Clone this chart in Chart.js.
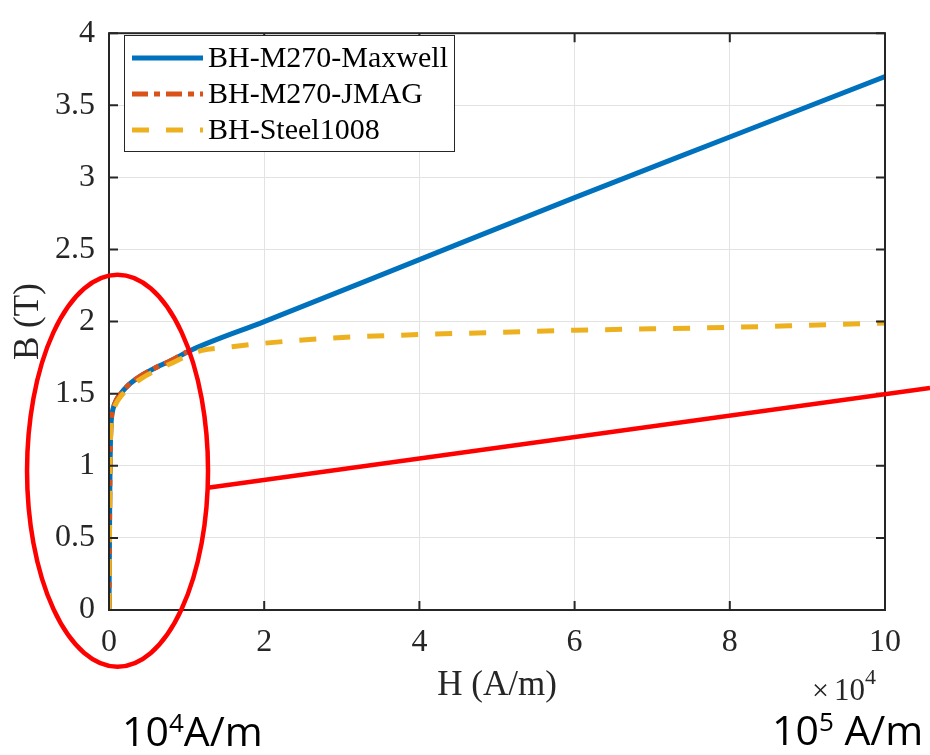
<!DOCTYPE html>
<html>
<head>
<meta charset="utf-8">
<script src="https://cdn.jsdelivr.net/npm/chart.js@4.4.0/dist/chart.umd.min.js"></script>
<style>
    html, body { margin: 0; padding: 0; background: #fff; }
    #bh { display: block; }
</style>
</head>
<body>
<canvas id="bh" width="930" height="755"></canvas>
<script>
// H in units of 1e4 A/m, B in T
const maxwellH = [0, 0.005, 0.01, 0.015, 0.02, 0.03, 0.05, 0.09, 0.15, 0.25, 0.4, 0.6, 0.8, 1.05, 2, 4, 6, 8, 10];
const maxwellB = [0, 0.4, 0.8, 1.05, 1.2, 1.32, 1.39, 1.45, 1.5, 1.56, 1.62, 1.68, 1.73, 1.8, 2.0, 2.43, 2.86, 3.28, 3.7];

const jmagH = [0, 0.005, 0.01, 0.015, 0.02, 0.03, 0.05, 0.09, 0.15, 0.25, 0.4, 0.6, 0.8, 1.0];
const jmagB = [0, 0.4, 0.8, 1.05, 1.2, 1.32, 1.39, 1.45, 1.5, 1.56, 1.62, 1.68, 1.73, 1.79];

const steelH = [0, 0.005, 0.01, 0.015, 0.02, 0.03, 0.05, 0.09, 0.15, 0.25, 0.4, 0.6, 0.8, 1.0, 1.2, 1.5, 2, 3, 4, 5, 6, 7, 8, 9, 10];
const steelB = [0, 0.4, 0.8, 1.05, 1.2, 1.3, 1.37, 1.43, 1.48, 1.54, 1.6, 1.66, 1.71, 1.76, 1.8, 1.82, 1.85, 1.89, 1.91, 1.925, 1.94, 1.95, 1.96, 1.975, 1.99];

const seriesLabels = ['BH-M270-Maxwell', 'BH-M270-JMAG', 'BH-Steel1008'];
const xTickStep = 2;
const yTickStep = 0.5;

const SERIF = '"Liberation Serif", "Times New Roman", serif';
const SANS = '"Open Sans", "Noto Sans", sans-serif';
const AXIS_COLOR = '#262626';
const GRID_COLOR = '#e3e3e3';

const toPoints = (xs, ys) => xs.map((x, i) => ({ x: x, y: ys[i] }));

// box round the axes with inward ticks on all four sides
const axesBox = {
    id: 'axesBox',
    afterDatasetsDraw(chart) {
        const { ctx, chartArea: a, scales: { x, y } } = chart;
        ctx.save();
        ctx.strokeStyle = AXIS_COLOR;
        ctx.lineWidth = 2;
        ctx.strokeRect(a.left, a.top, a.right - a.left, a.bottom - a.top);
        ctx.beginPath();
        x.ticks.forEach(t => {
            const px = x.getPixelForValue(t.value);
            ctx.moveTo(px, a.bottom); ctx.lineTo(px, a.bottom - 9);
            ctx.moveTo(px, a.top); ctx.lineTo(px, a.top + 9);
        });
        y.ticks.forEach(t => {
            const py = y.getPixelForValue(t.value);
            ctx.moveTo(a.left, py); ctx.lineTo(a.left + 9, py);
            ctx.moveTo(a.right, py); ctx.lineTo(a.right - 9, py);
        });
        ctx.stroke();
        ctx.restore();
    }
};

// legend box in the upper left corner
const boxLegend = {
    id: 'boxLegend',
    afterDraw(chart) {
        const { ctx } = chart;
        ctx.save();
        ctx.fillStyle = '#fff';
        ctx.fillRect(124.5, 35.5, 330, 116);
        ctx.strokeStyle = AXIS_COLOR;
        ctx.lineWidth = 1;
        ctx.strokeRect(124.5, 35.5, 330, 116);
        chart.data.datasets.forEach((ds, i) => {
            const cy = 58 + i * 36;
            ctx.setLineDash(ds.borderDash || []);
            ctx.strokeStyle = ds.borderColor;
            ctx.lineWidth = ds.borderWidth;
            ctx.beginPath();
            ctx.moveTo(132, cy);
            ctx.lineTo(203, cy);
            ctx.stroke();
            ctx.setLineDash([]);
            ctx.fillStyle = '#000';
            ctx.font = '30px ' + SERIF;
            ctx.textBaseline = 'middle';
            ctx.textAlign = 'left';
            ctx.fillText(ds.label, 208, cy + 1);
        });
        ctx.restore();
    }
};

// text with a raised exponent: base, exponent, rest
function drawPower(ctx, x, baseline, base, exp, rest, size, expSize, rise, family) {
    ctx.font = size + 'px ' + family;
    ctx.fillText(base, x, baseline);
    x += ctx.measureText(base).width;
    ctx.font = expSize + 'px ' + family;
    ctx.fillText(exp, x, baseline - rise);
    x += ctx.measureText(exp).width;
    ctx.font = size + 'px ' + family;
    ctx.fillText(rest, x, baseline);
}

// red marking round the knee region, plus the exponent notes
const kneeMark = {
    id: 'kneeMark',
    afterDraw(chart) {
        const { ctx, scales: { x, y } } = chart;
        const cx = x.getPixelForValue(0.11);
        const cy = y.getPixelForValue(0.966);
        const rx = 90.5, ry = 196;
        const ang = Math.asin(17 / ry);
        const endX = x.getPixelForValue(10.58);
        const endY = y.getPixelForValue(1.54);

        ctx.save();
        ctx.strokeStyle = '#ff0000';
        ctx.lineWidth = 4.5;
        ctx.beginPath();
        ctx.ellipse(cx, cy, rx, ry, 0, 0, Math.PI * 2);
        ctx.stroke();
        ctx.beginPath();
        ctx.moveTo(cx + rx * Math.cos(ang), cy + ry * Math.sin(ang));
        ctx.lineTo(endX, endY);
        ctx.stroke();

        ctx.fillStyle = AXIS_COLOR;
        ctx.textBaseline = 'alphabetic';
        ctx.textAlign = 'left';
        drawPower(ctx, 812, 700, '\u00d7', '', '', 30, 20, 0, SERIF);
        drawPower(ctx, 834, 700, '10', '4', '', 31, 22, 16, SERIF);

        ctx.fillStyle = '#000';
        drawPower(ctx, 122, 746, '10', '4', 'A/m', 41, 26, 14, SANS);
        drawPower(ctx, 772, 745, '10', '5', ' A/m', 41, 26, 14, SANS);
        ctx.restore();
    }
};

const tickFont = { family: SERIF, size: 32 };
const titleFont = { family: SERIF, size: 35 };

new Chart(document.getElementById('bh'), {
    type: 'line',
    data: {
        datasets: [
            {
                label: seriesLabels[0],
                data: toPoints(maxwellH, maxwellB),
                borderColor: '#0072bd',
                borderWidth: 5,
                order: 3,
            },
            {
                label: seriesLabels[1],
                data: toPoints(jmagH, jmagB),
                borderColor: '#d95319',
                borderWidth: 5,
                borderDash: [16, 6, 6, 6],
                order: 2,
            },
            {
                label: seriesLabels[2],
                data: toPoints(steelH, steelB),
                borderColor: '#edb120',
                borderWidth: 5,
                borderDash: [17, 17],
                order: 1,
            },
        ],
    },
    options: {
        responsive: false,
        animation: false,
        devicePixelRatio: 1,
        layout: { padding: { top: 18, right: 45, bottom: 48, left: 0 } },
        plugins: {
            legend: { display: false },
            tooltip: { enabled: false },
        },
        elements: {
            point: { radius: 0 },
            line: { cubicInterpolationMode: 'monotone', fill: false },
        },
        scales: {
            x: {
                type: 'linear',
                min: 0,
                max: 10,
                ticks: { stepSize: xTickStep, padding: 13, color: AXIS_COLOR, font: tickFont, maxRotation: 0,
                    callback: v => String(v) },
                grid: { color: GRID_COLOR, drawTicks: false },
                border: { display: false },
                title: { display: true, text: 'H (A/m)', color: AXIS_COLOR, font: titleFont, padding: { top: 0, bottom: 0 } },
                afterFit(scale) { scale.height = 97; },
            },
            y: {
                type: 'linear',
                min: 0,
                max: 4,
                ticks: { stepSize: yTickStep, padding: 14, color: AXIS_COLOR, font: tickFont,
                    callback: v => String(v) },
                grid: { color: GRID_COLOR, drawTicks: false },
                border: { display: false },
                title: { display: true, text: 'B (T)', color: AXIS_COLOR, font: titleFont, padding: { top: 8, bottom: 0 } },
                afterFit(scale) { scale.width = 109; },
            },
        },
    },
    plugins: [axesBox, boxLegend, kneeMark],
});
</script>
</body>
</html>
